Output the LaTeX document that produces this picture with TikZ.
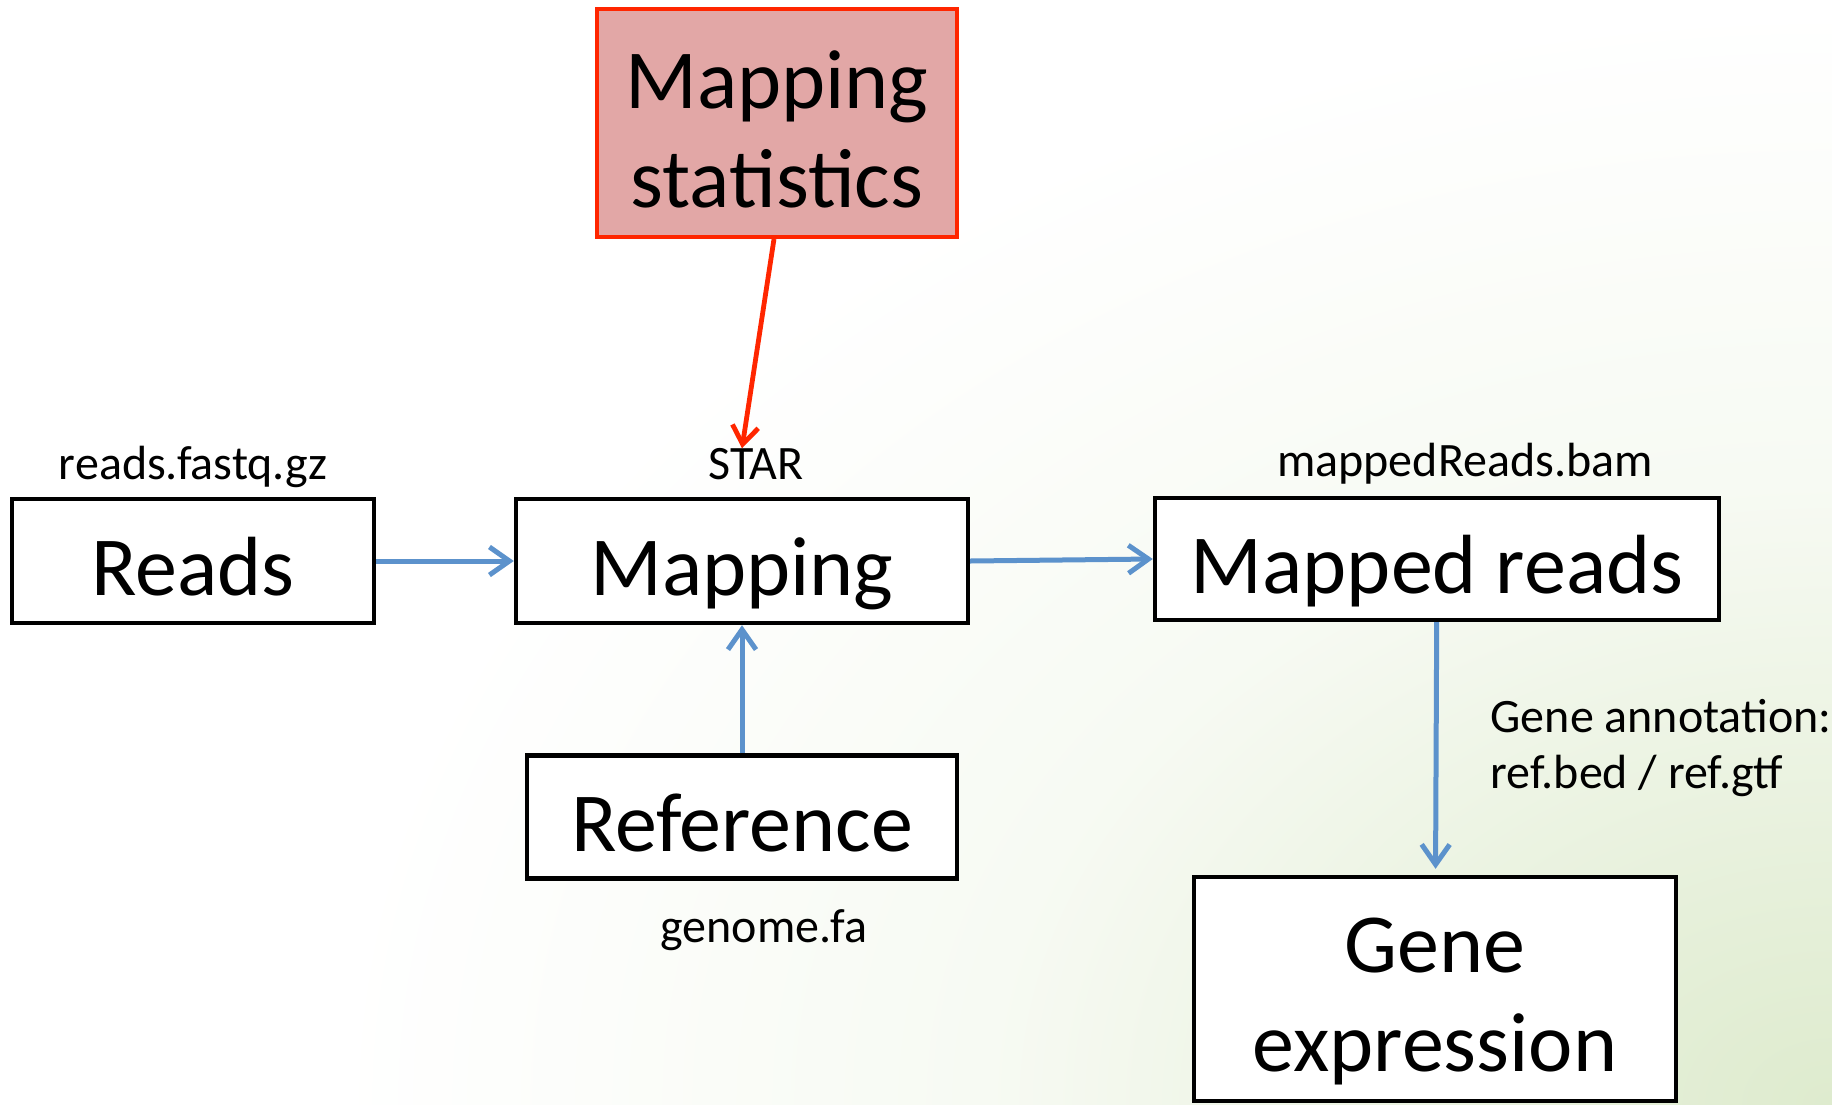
\documentclass[tikz,border=0pt]{standalone}
\usepackage{fontspec}
\setmainfont{Carlito}
\usetikzlibrary{arrows.meta,positioning}

\definecolor{flowblue}{RGB}{92,146,204}
\definecolor{statred}{RGB}{255,38,0}
\definecolor{statfill}{RGB}{226,167,166}
\definecolor{bggreen}{RGB}{222,235,206}
\colorlet{bgmid}{bggreen!70!white}
\colorlet{bglight}{bggreen!25!white}
\pgfdeclareradialshading{bgfade}{\pgfpoint{0bp}{0bp}}{color(0bp)=(bggreen); color(6bp)=(bgmid); color(14bp)=(bglight); color(25bp)=(white); color(50bp)=(white)}

\begin{document}
\begin{tikzpicture}[x=0.5pt,y=-0.5pt, box/.style = {rectangle, draw, line width=2.2pt, fill=white, font=\fontsize{42}{49.5}\selectfont}, onebox/.style = {box, text height=42pt, text depth=8pt}, twobox/.style = {box, align=center}, statbox/.style = {twobox, draw=statred, fill=statfill, line width=2pt}, file/.style = {font=\fontsize{24}{28}\selectfont, inner sep=0pt}, line/.style = {draw=flowblue, line width=2.5pt, -{Straight Barb[length=10pt,width=14pt]}}, statline/.style = {draw=statred, line width=2.4pt, -{Straight Barb[length=9pt,width=13pt]}}]
					% background
					\useasboundingbox (0,0) rectangle (1832,1104);
					\begin{scope}
						\clip (0,0) rectangle (1832,1104);
						\fill[white] (0,0) rectangle (1832,1104);
						\shade[shading=bgfade] (1832,1104) ellipse (1500 and 1100);
					\end{scope}
					
					\node[onebox, minimum width=181pt, minimum height=62pt] (reads) at (193,561) {Reads};
					\node[onebox, minimum width=226pt, minimum height=62pt] (mapping) at (742,561) {Mapping};
					\node[onebox, minimum width=282pt, minimum height=61pt] (mapped) at (1437,559) {Mapped reads};
					\node[onebox, minimum width=215pt, minimum height=61.5pt] (reference) at (742,817) {Reference};
					\node[twobox, minimum width=241pt, minimum height=112pt] (gene) at (1435,989) {\rule{0pt}{40pt}Gene\\expression};
					\node[statbox, minimum width=180pt, minimum height=114pt] (stats) at (777,123) {\rule{0pt}{35pt}Mapping\\statistics};
					
					\node[file, above=8.5pt of reads.north, anchor=base] (readsfile) {reads.fastq.gz};
					\node[file, above=8.5pt of mapping.north, xshift=7pt, anchor=base] (star) {STAR};
					\node[file, above=9.5pt of mapped.north, xshift=14pt, anchor=base] (mappedfile) {mappedReads.bam};
					\node[file, below=31pt of reference.south, xshift=11pt, anchor=base] (genome) {genome.fa};
					
					\path[line] (reads) -- (mapping);
					\path[line] (mapping.east) -- (mapped.west);
					\path[line] (reference) -- (mapping);
					\path[line, shorten >=3pt] (mapped) -- node[file, right=26pt, align=left] {Gene annotation:\\ref.bed / ref.gtf} (gene);
					\path[statline] ([xshift=-1.5pt]stats.south) -- ([xshift=-7pt]star.north);
				\end{tikzpicture}
\end{document}
